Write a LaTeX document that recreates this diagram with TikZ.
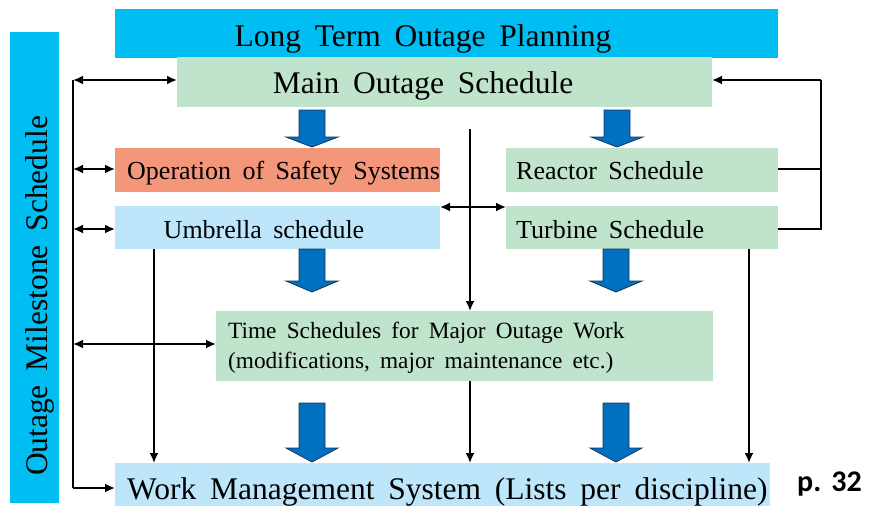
\documentclass[tikz,border=0pt]{standalone}
\usepackage{fontspec}
\setmainfont{Liberation Serif}[WordSpace=1.75]
\newfontfamily\pfont{Carlito}
\usetikzlibrary{arrows.meta}
\definecolor{cyanC}{RGB}{0,190,242}
\definecolor{greenC}{RGB}{191,227,203}
\definecolor{salmonC}{RGB}{244,150,122}
\definecolor{lblueC}{RGB}{189,230,250}
\definecolor{fatC}{RGB}{0,112,192}
\definecolor{fatE}{RGB}{25,50,90}
\newcommand\fatarrow[4]{%
  \filldraw[fill=fatC, draw=fatE, line width=0.8pt, line join=miter]
    (#1-13,#2) -- (#1+13,#2) -- (#1+13,#3) -- (#1+26,#3) -- (#1,#4) -- (#1-26,#3) -- (#1-13,#3) -- cycle;}
\begin{document}
\begin{tikzpicture}[x=1pt,y=-1pt,
  box/.style={inner sep=0pt, outer sep=0pt, anchor=north west, draw=none},
  big/.style={font=\fontsize{31.5}{36}\selectfont, inner sep=0pt},
  mid/.style={font=\fontsize{26}{30}\selectfont, inner sep=0pt},
  conn/.style={line width=1.8pt, black},
  sgl/.style={conn, -{Latex[length=10pt,width=9pt]}},
  dbl/.style={conn, {Latex[length=10pt,width=9pt]}-{Latex[length=10pt,width=9pt]}}]
\useasboundingbox (0,0) rectangle (880,506);
% boxes
\node[box, fill=cyanC, minimum width=49pt, minimum height=471pt] (oms) at (10,32) {};
\node[box, fill=cyanC, minimum width=663pt, minimum height=49pt] (ltop) at (115,9) {};
\node[box, fill=greenC, minimum width=535pt, minimum height=50pt] (main) at (177,57) {};
\node[box, fill=salmonC, minimum width=325pt, minimum height=44pt] (ops) at (115,148) {};
\node[box, fill=lblueC, minimum width=325pt, minimum height=43pt] (umb) at (115,206) {};
\node[box, fill=greenC, minimum width=272pt, minimum height=44pt] (rea) at (506,148) {};
\node[box, fill=greenC, minimum width=272pt, minimum height=43pt] (tur) at (506,206) {};
\node[box, fill=greenC, minimum width=497pt, minimum height=70pt] (time) at (216,311) {};
\node[box, fill=lblueC, minimum width=655pt, minimum height=43pt] (wms) at (115,463) {};
% texts
\node[big, rotate=90, anchor=base] (omst) at (47,296) {Outage Milestone Schedule};
\node[big, anchor=base] (ltopt) at (423,46) {Long Term Outage Planning};
\node[big, anchor=base] (maint) at (423,93) {Main Outage Schedule};
\node[mid, anchor=base west] (opst) at (127,179) {Operation of Safety Systems};
\node[mid, anchor=base] (umbt) at (264,238) {Umbrella schedule};
\node[mid, anchor=base west] (reat) at (516,179) {Reactor Schedule};
\node[mid, anchor=base west] (turt) at (516,238) {Turbine Schedule};
\node[font=\fontsize{23.3}{29.5}\selectfont, inner sep=0pt, anchor=base west, align=left] (timet) at (228,368)
  {Time Schedules for Major Outage Work\\(modifications, major maintenance etc.)};
\node[big, anchor=base west] (wmst) at (127,499) {Work Management System (Lists per discipline)};
\node[font=\pfont\bfseries\fontsize{30}{32}\selectfont, inner sep=0pt, anchor=base west] (page) at (797,491) {p.\,\,32};
% block arrows
\fatarrow{312}{110}{137}{147}
\fatarrow{617}{110}{137}{147}
\fatarrow{312}{249}{281}{292}
\fatarrow{616}{249}{281}{292}
\fatarrow{312}{403}{448}{462}
\fatarrow{616}{403}{448}{462}
% left bus
\coordinate (L1) at (73,80);
\coordinate (L2) at (73,169);
\coordinate (L3) at (73,229);
\coordinate (L4) at (73,344);
\coordinate (L5) at (73,488);
\draw[conn] (L1) -- (L5);
\draw[dbl] (L1) -- (main.west |- L1);
\draw[dbl] (L2) -- (ops.west |- L2);
\draw[dbl] (L3) -- (umb.west |- L3);
\draw[dbl] (L4) -- (time.west |- L4);
\draw[sgl] (L5) -- (wms.west |- L5);
% right bus
\coordinate (R1) at (821,80);
\coordinate (R2) at (821,169);
\coordinate (R3) at (821,229);
\draw[conn] (rea.east |- R2) -- (R2);
\draw[conn] (tur.east |- R3) -- (R3) -- (R1);
\draw[sgl] (R1) -- (main.east |- R1);
% centre
\coordinate (C1) at (470,129);
\coordinate (CM) at (470,207);
\draw[sgl] (C1) -- (C1 |- time.north);
\draw[dbl] (umb.east |- CM) -- (tur.west |- CM);
\draw[sgl] (C1 |- time.south) -- (C1 |- wms.north);
% verticals to WMS
\coordinate (U1) at (154,249);
\coordinate (T1) at (749,249);
\draw[sgl] (U1) -- (U1 |- wms.north);
\draw[sgl] (T1) -- (T1 |- wms.north);
\end{tikzpicture}
\end{document}
